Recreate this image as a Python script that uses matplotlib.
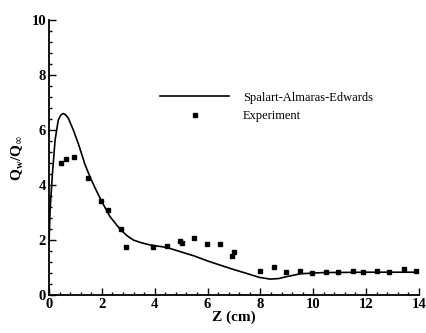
import matplotlib
matplotlib.use("Agg")
import matplotlib.pyplot as plt
from matplotlib.ticker import MultipleLocator

# Spalart-Almaras-Edwards curve
sae_z = [0.0, 0.04, 0.13, 0.23, 0.35, 0.45, 0.54, 0.63, 0.73, 0.92, 1.11, 1.36, 1.55, 1.74,
         2.0, 2.31, 2.69, 2.95, 3.19, 3.5, 3.83, 4.46, 4.96, 5.5, 5.97, 6.5, 6.98, 7.5,
         7.97, 8.37, 8.7, 9.0, 9.5, 10.0, 10.5, 11.0, 12.0, 13.0, 14.0]
sae_q = [1.88, 3.09, 4.42, 5.64, 6.36, 6.55, 6.6, 6.55, 6.43, 6.0, 5.5, 4.75, 4.3, 3.9,
         3.39, 2.85, 2.39, 2.16, 2.0, 1.9, 1.82, 1.73, 1.58, 1.42, 1.25, 1.08, 0.93, 0.78,
         0.64, 0.58, 0.6, 0.67, 0.77, 0.8, 0.82, 0.82, 0.83, 0.83, 0.83]

# Experiment
exp_z = [0.47, 0.64, 0.96, 1.49, 1.97, 2.22, 2.73, 2.92, 3.93, 4.47, 4.94, 5.02, 5.49,
         5.98, 6.49, 6.94, 7.0, 7.97, 8.52, 8.98, 9.5, 9.97, 10.5, 10.93, 11.49, 11.88,
         12.41, 12.85, 13.45, 13.9]
exp_q = [4.79, 4.95, 5.03, 4.27, 3.41, 3.09, 2.39, 1.73, 1.76, 1.78, 1.97, 1.9, 2.06,
         1.85, 1.85, 1.42, 1.58, 0.87, 1.03, 0.82, 0.87, 0.8, 0.85, 0.85, 0.88, 0.85,
         0.88, 0.82, 0.95, 0.88]

plt.rcParams['font.family'] = ['Liberation Serif', 'DejaVu Serif']

fig = plt.figure(figsize=(4.27, 3.33), dpi=100)
ax = fig.add_axes([0.1148, 0.114, 0.8662, 0.826])

l1, = ax.plot(sae_z, sae_q, color='black', lw=1.2, label='Spalart-Almaras-Edwards')
l2, = ax.plot(exp_z, exp_q, 's', color='black', ms=2.8, label='Experiment')

ax.set_xlim(0, 14)
ax.set_ylim(0, 10)
ax.xaxis.set_major_locator(MultipleLocator(2))
ax.xaxis.set_minor_locator(MultipleLocator(0.4))
ax.yaxis.set_major_locator(MultipleLocator(2))
ax.yaxis.set_minor_locator(MultipleLocator(0.4))
ax.tick_params(which='both', direction='in', width=1)
ax.tick_params(which='major', length=5, labelsize=10.5, pad=2)
ax.tick_params(which='minor', length=2.5)
for lab in ax.get_xticklabels() + ax.get_yticklabels():
    lab.set_fontweight('bold')
ax.spines['top'].set_visible(False)
ax.spines['right'].set_visible(False)
ax.spines['left'].set_linewidth(1.3)
ax.spines['bottom'].set_linewidth(1.3)

ax.set_xlabel('Z (cm)', fontsize=11, fontweight='bold', labelpad=0)
ax.set_ylabel(r'Q$_\mathregular{w}$/Q$_\infty$', fontsize=11, fontweight='bold', labelpad=4)

ax.legend(handles=[l1, l2], loc='upper left', bbox_to_anchor=(0.27, 0.78), frameon=False,
          fontsize=9, handlelength=5.5, handletextpad=1.1, labelspacing=0.5)

fig.savefig('out.png', dpi=100)
